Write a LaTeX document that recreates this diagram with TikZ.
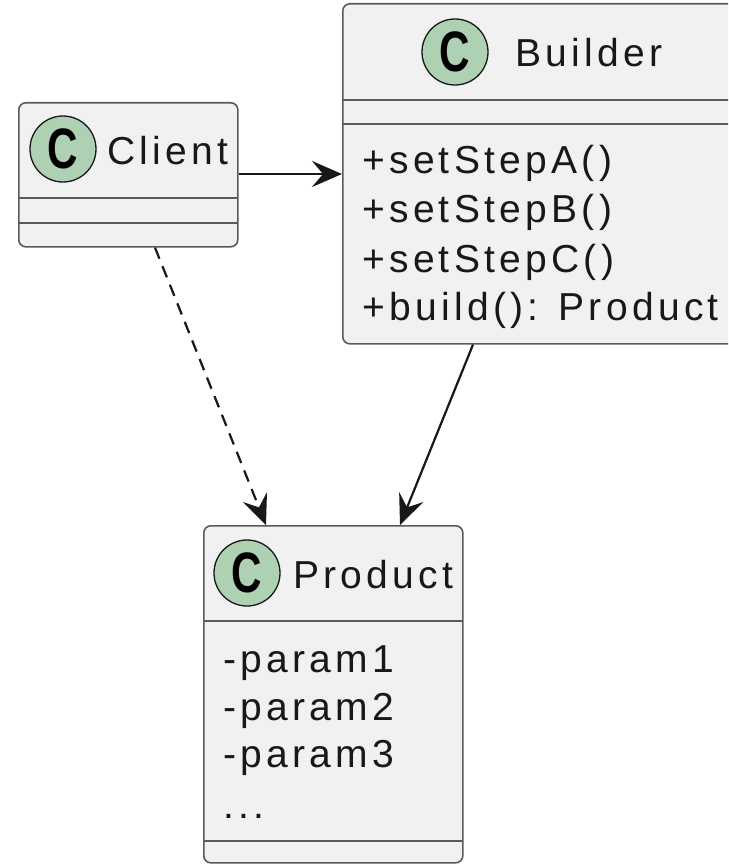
\documentclass[tikz,border=0pt]{standalone}
\usepackage{fontspec}
\newfontfamily\umlfont{Liberation Sans}[LetterSpace=11]
\newfontfamily\spotfont{Liberation Sans Bold}
\usetikzlibrary{arrows.meta}
\definecolor{boxfill}{HTML}{F1F1F1}
\definecolor{boxline}{HTML}{5A5A5A}
\definecolor{spotfill}{HTML}{ADD1B2}
\definecolor{ink}{HTML}{181818}
\begin{document}
\begin{tikzpicture}[x=1pt,y=-1pt,
 classbox/.style={draw=boxline, fill=boxfill, line width=1.6pt, rounded corners=7pt, inner sep=0pt, anchor=north west},
 sepline/.style={draw=boxline, line width=1.6pt},
 spotcircle/.style={circle, draw=ink, fill=spotfill, line width=1.3pt, minimum size=66pt, inner sep=0pt},
 spotletter/.style={font=\spotfont\fontsize{57}{57}\selectfont, xscale=0.74, inner sep=0pt, text=black},
 txt/.style={font=\umlfont\fontsize{39}{47}\selectfont, anchor=base west, inner sep=0pt, text=ink},
 arrowline/.style={-{Stealth[length=30pt,width=26pt,inset=11pt]}, draw=ink, line width=2.2pt},
]
\clip (0,0) rectangle (728,864);
\fill[white] (0,0) rectangle (728,864);

% Client
\node[classbox, minimum width=219pt, minimum height=144pt] (client) at (18,102) {};
\draw[sepline] (client.north west) ++(0,96) -- ++(219,0);
\draw[sepline] (client.north west) ++(0,121) -- ++(219,0);
\node[spotcircle] (clientspot) at (63,149) {};
\node[spotletter] (clientc) at (clientspot.center) {C};
\node[txt] (clientname) at (107,164) {Client};

% Builder
\node[classbox, minimum width=392pt, minimum height=340pt] (builder) at (342,3) {};
\draw[sepline] (builder.north west) ++(0,97) -- ++(392,0);
\draw[sepline] (builder.north west) ++(0,121) -- ++(392,0);
\node[spotcircle] (builderspot) at (455,52) {};
\node[spotletter] (builderc) at (builderspot.center) {C};
\node[txt] (buildername) at (515,67) {Builder};
\node[txt] (m1) at (362,173) {+setStepA()};
\node[txt] (m2) at (362,222) {+setStepB()};
\node[txt] (m3) at (362,272) {+setStepC()};
\node[txt] (m4) at (362,320) {+build(): Product};

% Product
\node[classbox, minimum width=259pt, minimum height=337pt] (product) at (203,525) {};
\draw[sepline] (product.north west) ++(0,96) -- ++(259,0);
\draw[sepline] (product.north west) ++(0,316) -- ++(259,0);
\node[spotcircle] (productspot) at (247,573) {};
\node[spotletter] (productc) at (productspot.center) {C};
\node[txt] (productname) at (293,588) {Product};
\node[txt] (f1) at (223,672) {-param1};
\node[txt] (f2) at (223,720) {-param2};
\node[txt] (f3) at (223,767) {-param3};
\node[txt] (f4) at (223,818) {...};

% Connectors
\draw[arrowline] ([yshift=-72pt]client.north east) -- ([yshift=-171pt]builder.north west);
\draw[arrowline, dash pattern=on 12pt off 8pt] ([xshift=137pt]client.south west) -- ([xshift=63pt]product.north west);
\draw[arrowline] ([xshift=131pt]builder.south west) -- ([xshift=197pt]product.north west);
\end{tikzpicture}
\end{document}
